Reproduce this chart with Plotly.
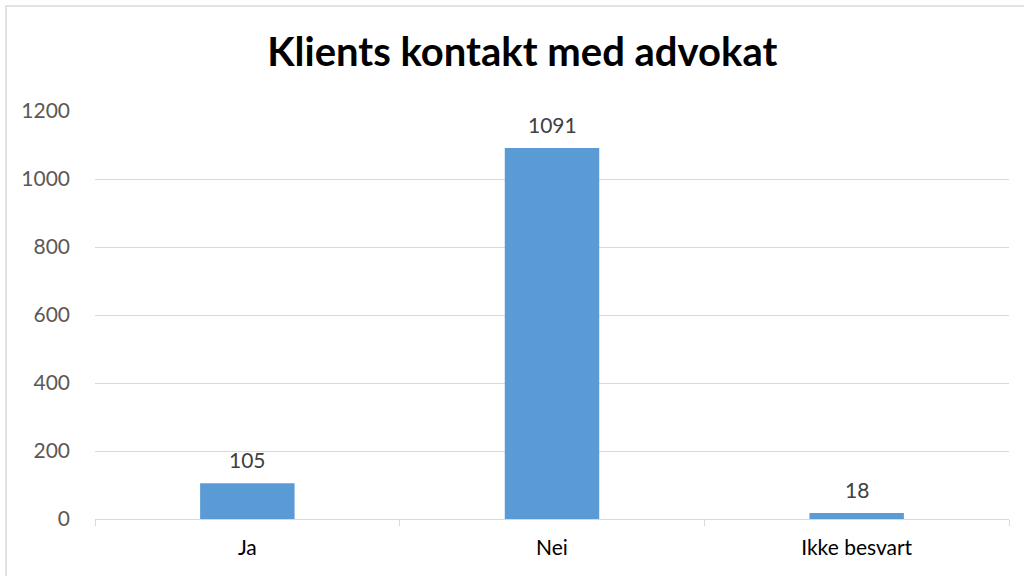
import plotly.graph_objects as go

categories = ["Ja", "Nei", "Ikke besvart"]
values = [105, 1091, 18]
y_ticks = [0, 200, 400, 600, 800, 1000, 1200]

font_family = "Lato, 'Open Sans', sans-serif"

fig = go.Figure()

fig.add_trace(go.Bar(
    x=categories,
    y=values,
    width=0.31,
    marker=dict(color="#5B9BD5", line=dict(width=0)),
))

# data labels above bars
for cat, val in zip(categories, values):
    fig.add_annotation(
        x=cat, y=val, text=str(val),
        showarrow=False, yanchor="bottom", yshift=9,
        font=dict(size=21, color="#404040", family=font_family),
    )

fig.update_layout(
    width=1024,
    height=576,
    paper_bgcolor="white",
    plot_bgcolor="white",
    margin=dict(l=95, r=15, t=111, b=57),
    showlegend=False,
    title=dict(
        text="<b>Klients kontakt med advokat</b>",
        font=dict(size=40, color="#000000", family=font_family),
        x=0.51, xanchor="center",
        y=0.91, yanchor="middle",
    ),
    font=dict(family=font_family),
)

fig.update_xaxes(
    showgrid=False,
    showline=True,
    linecolor="#d9d9d9",
    linewidth=1,
    ticks="outside",
    tickson="boundaries",
    ticklen=6,
    tickcolor="#d9d9d9",
    ticklabelstandoff=10,
    tickfont=dict(size=21, color="#000000", family=font_family),
)

fig.update_yaxes(
    range=[0, 1200],
    tickvals=y_ticks,
    showgrid=True,
    gridcolor="#d9d9d9",
    gridwidth=1,
    zeroline=False,
    showline=False,
    ticks="",
    ticklabelstandoff=24,
    tickfont=dict(size=21, color="#595959", family=font_family),
)

# chart border
fig.add_shape(
    type="rect", xref="paper", yref="paper",
    x0=(6 - 95) / 914, x1=1.05,
    y0=-0.3, y1=(519 - 6) / 408,
    line=dict(color="#d9d9d9", width=1.5),
    fillcolor="rgba(0,0,0,0)",
    layer="below",
)

fig.write_html("out.html", config={"displayModeBar": False},
               post_script="document.body.style.margin='0';")
